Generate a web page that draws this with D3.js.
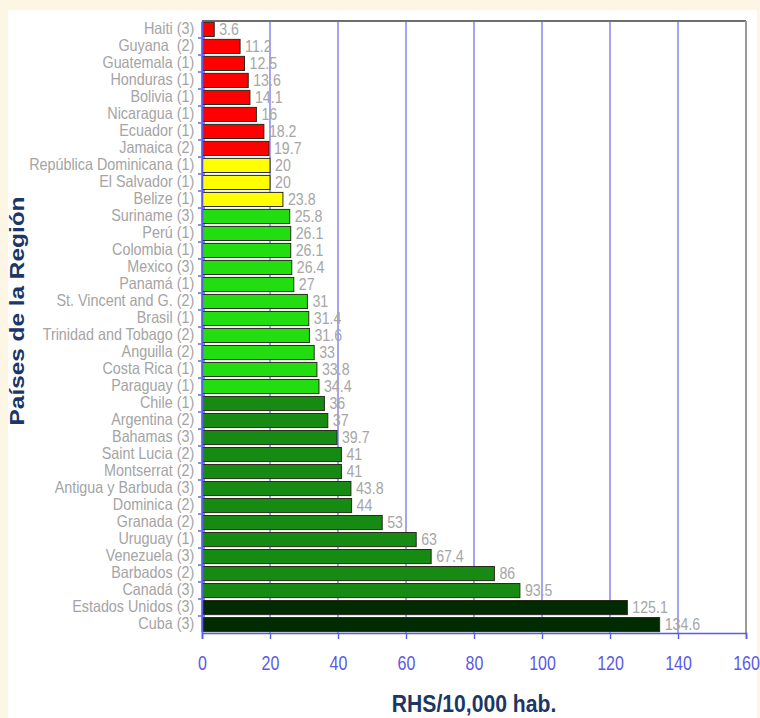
<!DOCTYPE html>
<html>
<head>
<meta charset="utf-8">
<script src="https://cdn.jsdelivr.net/npm/d3@7"></script>
<style>
  html, body { margin: 0; padding: 0; background: #fdf6e4; }
  svg { display: block; }
</style>
</head>
<body>
<svg id="chart" width="760" height="718"></svg>
<script>
// Human resources for health per 10,000 inhabitants, by country
const countries = [
  "Haiti (3)", "Guyana  (2)", "Guatemala (1)", "Honduras (1)", "Bolivia (1)",
  "Nicaragua (1)", "Ecuador (1)", "Jamaica (2)", "República Dominicana (1)",
  "El Salvador (1)", "Belize (1)", "Suriname (3)", "Perú (1)", "Colombia (1)",
  "Mexico (3)", "Panamá (1)", "St. Vincent and G. (2)", "Brasil (1)",
  "Trinidad and Tobago (2)", "Anguilla (2)", "Costa Rica (1)", "Paraguay (1)",
  "Chile (1)", "Argentina (2)", "Bahamas (3)", "Saint Lucia (2)", "Montserrat (2)",
  "Antigua y Barbuda (3)", "Dominica (2)", "Granada (2)", "Uruguay (1)",
  "Venezuela (3)", "Barbados (2)", "Canadá (3)", "Estados Unidos (3)", "Cuba (3)"
];
const values = [
  3.6, 11.2, 12.5, 13.6, 14.1, 16, 18.2, 19.7, 20, 20, 23.8, 25.8, 26.1, 26.1,
  26.4, 27, 31, 31.4, 31.6, 33, 33.8, 34.4, 36, 37, 39.7, 41, 41, 43.8, 44,
  53, 63, 67.4, 86, 93.5, 125.1, 134.6
];
// density group of each country (drives the bar colour)
const groups = [
  "low", "low", "low", "low", "low", "low", "low", "low",
  "lowmid", "lowmid", "lowmid",
  "mid", "mid", "mid", "mid", "mid", "mid", "mid", "mid", "mid", "mid", "mid",
  "high", "high", "high", "high", "high", "high", "high", "high", "high", "high", "high", "high",
  "top", "top"
];
const xTicks = [0, 20, 40, 60, 80, 100, 120, 140, 160];

const groupColor = {
  low: "#ff0000",
  lowmid: "#ffff00",
  mid: "#22dd10",
  high: "#168a12",
  top: "#002a00"
};

const data = countries.map((c, i) => ({ name: c, value: values[i], group: groups[i] }));

const FONT = "'Liberation Sans', Arial, sans-serif";
const svg = d3.select("#chart");

// white panel
svg.append("rect")
  .attr("x", 8).attr("y", 10).attr("width", 749).attr("height", 708)
  .attr("fill", "#ffffff");

const plotLeft = 202, plotRight = 746, plotTop = 21, plotBottom = 633;

const x = d3.scaleLinear().domain([0, 160]).range([plotLeft, plotRight]);
const y = d3.scaleBand().domain(countries).range([plotTop, plotBottom]).paddingInner(0.17).paddingOuter(0.08);
const yEdge = d3.scaleBand().domain(countries).range([plotTop, plotBottom]);

// vertical gridlines
svg.append("g")
  .selectAll("line")
  .data(xTicks.filter(t => t > 0 && t < 160))
  .join("line")
  .attr("x1", d => x(d)).attr("x2", d => x(d))
  .attr("y1", plotTop).attr("y2", plotBottom)
  .attr("stroke", "#8e8ef2").attr("stroke-width", 1.6);

// frame: top and right
svg.append("line")
  .attr("x1", plotLeft).attr("x2", plotRight).attr("y1", plotTop).attr("y2", plotTop)
  .attr("stroke", "#6e6e6e").attr("stroke-width", 2);
svg.append("line")
  .attr("x1", plotRight).attr("x2", plotRight).attr("y1", plotTop).attr("y2", plotBottom)
  .attr("stroke", "#9a9a9a").attr("stroke-width", 2);

// bars
svg.append("g")
  .selectAll("rect")
  .data(data)
  .join("rect")
  .attr("x", x(0))
  .attr("y", d => y(d.name))
  .attr("width", d => x(d.value) - x(0))
  .attr("height", y.bandwidth())
  .attr("fill", d => groupColor[d.group])
  .attr("stroke", "#2a2a1a")
  .attr("stroke-width", 1);

// value labels (narrow lettering)
svg.append("g")
  .selectAll("text")
  .data(data)
  .join("text")
  .attr("transform", d => `translate(${x(d.value) + 5},${y(d.name) + y.bandwidth() / 2 + 5.5}) scale(0.86,1)`)
  .attr("font-family", FONT)
  .attr("font-size", 16.5)
  .attr("fill", "#a6a6a6")
  .text(d => d.value);

// left axis
const yAxis = d3.axisLeft(yEdge).tickSize(0).tickPadding(9);
const gy = svg.append("g").attr("transform", `translate(${plotLeft},0)`).call(yAxis);
gy.select(".domain").attr("stroke", "#5a5ae8").attr("stroke-width", 1.6);
gy.selectAll("text")
  .attr("font-family", FONT)
  .attr("font-size", 16.5)
  .attr("dy", "0.26em")
  .attr("transform", "scale(0.87,1)")
  .style("white-space", "pre")
  .attr("fill", "#a4a4a4");
// tick marks on band boundaries
svg.append("g")
  .selectAll("line")
  .data(countries.slice(1))
  .join("line")
  .attr("x1", plotLeft - 4).attr("x2", plotLeft + 3)
  .attr("y1", d => yEdge(d)).attr("y2", d => yEdge(d))
  .attr("stroke", "#5a5ae8").attr("stroke-width", 1.4);

// bottom axis
const xAxis = d3.axisBottom(x).tickValues(xTicks).tickSize(6).tickPadding(17);
const gx = svg.append("g").attr("transform", `translate(0,${plotBottom})`).call(xAxis);
gx.select(".domain").attr("stroke", "#5a5ae8").attr("stroke-width", 1.6);
gx.selectAll(".tick line").attr("stroke", "#5a5ae8").attr("stroke-width", 1.4);
gx.selectAll("text")
  .attr("font-family", FONT)
  .attr("font-size", 20)
  .attr("transform", "scale(0.8,1)")
  .attr("fill", "#5a5ae6");

// axis titles
svg.append("text")
  .attr("transform", "translate(474,712) scale(0.92,1)")
  .attr("text-anchor", "middle")
  .attr("font-family", FONT)
  .attr("font-weight", "bold")
  .attr("font-size", 23)
  .attr("fill", "#1c3766")
  .text("RHS/10,000 hab.");

svg.append("text")
  .attr("transform", "translate(24,311) rotate(-90) scale(1.25,1)")
  .attr("text-anchor", "middle")
  .attr("font-family", FONT)
  .attr("font-weight", "bold")
  .attr("font-size", 19.5)
  .attr("fill", "#1c3766")
  .text("Países de la Región");
</script>
</body>
</html>
